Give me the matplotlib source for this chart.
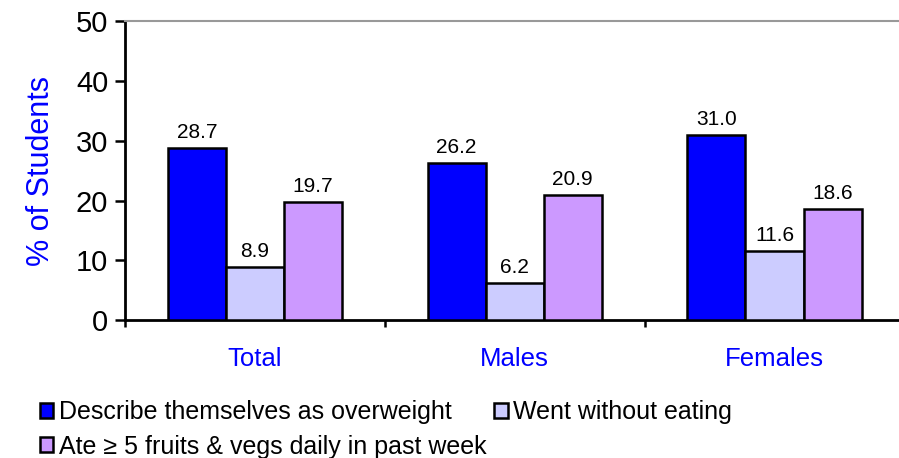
import numpy as np
import matplotlib
matplotlib.use("Agg")
import matplotlib.pyplot as plt
from matplotlib.patches import Patch

plt.rcParams['font.family'] = ['Liberation Sans', 'DejaVu Sans']

# chart data
groups = ['Total', 'Males', 'Females']
series = ['Describe themselves as overweight', 'Went without eating',
          'Ate \u2265 5 fruits & vegs daily in past week']
overweight = [28.7, 26.2, 31.0]
went_without = [8.9, 6.2, 11.6]
fruits_vegs = [19.7, 20.9, 18.6]
colors = ['#0000FF', '#CCCCFF', '#CC99FF']


def main():
    fig = plt.figure(figsize=(8.99, 4.58), dpi=100)
    ax = fig.add_axes([0.139, 0.301, 0.867, 0.653])

    x = np.arange(len(groups)) + 0.5
    width = 0.2235
    values = [overweight, went_without, fruits_vegs]
    handles = []
    for i, (vals, col, name) in enumerate(zip(values, colors, series)):
        pos = x + (i - 1) * width
        bars = ax.bar(pos, vals, width, color=col, edgecolor='black', linewidth=1.8,
                      label=name, zorder=3)
        for b, v in zip(bars, vals):
            ax.text(b.get_x() + b.get_width() / 2, v + 1.0, f'{v:.1f}',
                    ha='center', va='bottom', fontsize=15)
        handles.append(Patch(facecolor=col, edgecolor='black', linewidth=1.8))

    ax.set_xlim(0, 3)
    ax.set_ylim(0, 50)
    ax.set_yticks(range(0, 51, 10))
    ax.tick_params(axis='y', labelsize=21, length=7, width=1.8, direction='out', pad=5)

    ax.set_xticks([0, 1, 2, 3])
    ax.set_xticklabels([])
    ax.set_xticks(x, minor=True)
    ax.set_xticklabels(groups, minor=True, color='#0000FF', fontsize=18.5)
    ax.tick_params(axis='x', which='major', length=5, width=1.8, direction='out')
    ax.tick_params(axis='x', which='minor', length=0, pad=19)

    ax.set_ylabel('% of Students', color='#0000FF', fontsize=22, labelpad=14)

    ax.spines['top'].set_color('#999999')
    ax.spines['top'].set_linewidth(1.5)
    ax.spines['right'].set_visible(False)
    ax.spines['left'].set_linewidth(2)
    ax.spines['bottom'].set_linewidth(2)

    # legend: row-wise order
    order = [0, 2, 1]
    fig.legend([handles[i] for i in order], [series[i] for i in order],
               ncol=2, loc='upper left', bbox_to_anchor=(0.044, 0.126),
               frameon=False, fontsize=18, handlelength=0.55, handleheight=0.55,
               handletextpad=0.22, columnspacing=0.3, labelspacing=0.42,
               borderpad=0, borderaxespad=0)

    fig.savefig('out.png', dpi=100)


if __name__ == "__main__":
    main()
